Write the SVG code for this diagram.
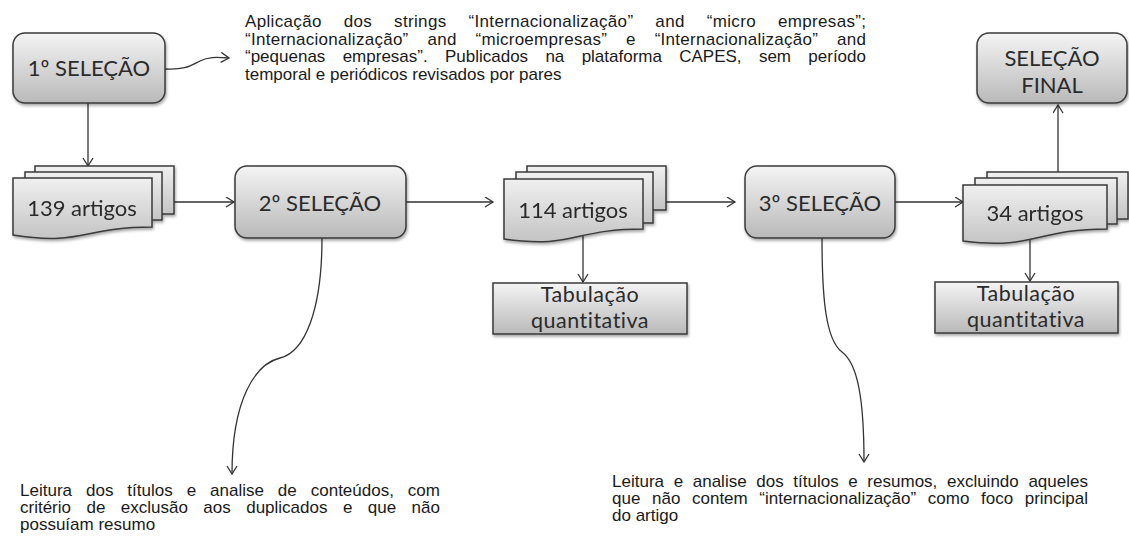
<svg xmlns="http://www.w3.org/2000/svg" width="1129" height="542" viewBox="0 0 1129 542">
<defs>
  <linearGradient id="g" x1="0" y1="0" x2="0" y2="1">
    <stop offset="0" stop-color="#f4f4f4"/>
    <stop offset="1" stop-color="#b9b9b9"/>
  </linearGradient>
  <linearGradient id="gs" x1="0" y1="0" x2="0" y2="1">
    <stop offset="0" stop-color="#f0f0f0"/>
    <stop offset="1" stop-color="#c4c4c4"/>
  </linearGradient>
  <filter id="sh" x="-10%" y="-10%" width="125%" height="135%">
    <feDropShadow dx="1" dy="2" stdDeviation="1.5" flood-color="#000" flood-opacity="0.35"/>
  </filter>
  <marker id="ah" markerUnits="userSpaceOnUse" markerWidth="12" markerHeight="12" refX="9" refY="5.5" orient="auto">
    <path d="M1,0.5 L9,5.5 L1,10.5" fill="none" stroke="#333" stroke-width="1.3"/>
  </marker>
</defs>
<style>
  .box{fill:url(#g);stroke:#3a3a3a;stroke-width:1.5;filter:url(#sh)}
  .sheet{fill:url(#gs);stroke:#3a3a3a;stroke-width:1.5}
  .lbl{font-family:Lato,"Liberation Sans",sans-serif;font-size:22px;fill:#2b2b2b;text-anchor:middle}
  .tab{font-family:Lato,"Liberation Sans",sans-serif;font-size:21.5px;letter-spacing:0.5px;fill:#2b2b2b;text-anchor:middle}
  .txt{font-family:"Liberation Sans",Arial,sans-serif;font-size:17px;fill:#1a1a1a}
  .con{fill:none;stroke:#333;stroke-width:1.3;marker-end:url(#ah)}
</style>
<rect width="1129" height="542" fill="#ffffff"/>

<g id="connectors">
  <path class="con" d="M165,69 C185,70 190,66 200,61 C208,57 215,57 229,58"/>
  <path class="con" d="M88,103 V166"/>
  <path class="con" d="M174,202 H234"/>
  <path class="con" d="M406,202 H493"/>
  <path class="con" d="M666,202 H735"/>
  <path class="con" d="M583,236 V282"/>
  <path class="con" d="M895,202 H963"/>
  <path class="con" d="M1058,172 V105"/>
  <path class="con" d="M1030,238 V281"/>
  <path class="con" d="M322,238 C322,310 305,352 280,358 C255,364 232,400 232,474"/>
  <path class="con" d="M822,238 C822,300 826,340 842,352 C858,364 864,400 864,462"/>
</g>

<g id="sel1">
  <rect class="box" x="13" y="33" width="152" height="70" rx="12"/>
  <text class="lbl" x="89" y="76">1º SELEÇÃO</text>
</g>

<g id="note1">
  <text class="txt" x="245" y="27" word-spacing="16.9" textLength="621" lengthAdjust="spacing">Aplicação dos strings “Internacionalização” and “micro empresas”;</text>
  <text class="txt" x="245" y="44.5" word-spacing="13.9" textLength="621" lengthAdjust="spacing">“Internacionalização” and “microempresas” e “Internacionalização” and</text>
  <text class="txt" x="245" y="62" word-spacing="12.6" textLength="621" lengthAdjust="spacing">“pequenas empresas”. Publicados na plataforma CAPES, sem período</text>
  <text class="txt" x="245" y="79.5">temporal e periódicos revisados por pares</text>
</g>

<g id="doc139" filter="url(#sh)">
  <rect class="sheet" x="35" y="166" width="139" height="48"/>
  <rect class="sheet" x="25" y="172" width="137" height="48"/>
  <path class="sheet" d="M13,178 H152 V227 C82,227 82,246 13,235 Z"/>
  <text class="lbl" x="82" y="216">139 artigos</text>
</g>

<g id="sel2">
  <rect class="box" x="235" y="166" width="171" height="72" rx="12"/>
  <text class="lbl" x="320" y="211">2º SELEÇÃO</text>
</g>

<g id="doc114" filter="url(#sh)">
  <rect class="sheet" x="527" y="166" width="139" height="44"/>
  <rect class="sheet" x="516" y="172" width="137" height="51"/>
  <path class="sheet" d="M504,179 H643 V229 C573,229 573,249 504,239 Z"/>
  <text class="lbl" x="573" y="218">114 artigos</text>
</g>

<g id="tab1">
  <rect x="493" y="283" width="194" height="51" fill="url(#g)" stroke="#3a3a3a" stroke-width="1.5" filter="url(#sh)"/>
  <text class="tab" x="590" y="302">Tabulação</text>
  <text class="tab" x="590" y="328">quantitativa</text>
</g>

<g id="sel3">
  <rect class="box" x="745" y="166" width="150" height="72" rx="12"/>
  <text class="lbl" x="820" y="211">3º SELEÇÃO</text>
</g>

<g id="doc34" filter="url(#sh)">
  <rect class="sheet" x="987" y="172" width="141" height="47"/>
  <rect class="sheet" x="975" y="178" width="142" height="46"/>
  <path class="sheet" d="M963,185 H1107 V229 C1035,229 1035,250 963,241 Z"/>
  <text class="lbl" x="1035" y="221">34 artigos</text>
</g>

<g id="tab2">
  <rect x="935" y="282" width="183" height="51" fill="url(#g)" stroke="#3a3a3a" stroke-width="1.5" filter="url(#sh)"/>
  <text class="tab" x="1026" y="301">Tabulação</text>
  <text class="tab" x="1026" y="327">quantitativa</text>
</g>

<g id="final">
  <rect class="box" x="977" y="33" width="150" height="70" rx="12"/>
  <text class="lbl" x="1052" y="66">SELEÇÃO</text>
  <text class="lbl" x="1052" y="93">FINAL</text>
</g>

<g id="note2">
  <text class="txt" x="20" y="496" word-spacing="9.2" textLength="420" lengthAdjust="spacing">Leitura dos títulos e analise de conteúdos, com</text>
  <text class="txt" x="20" y="513" word-spacing="10.7" textLength="420" lengthAdjust="spacing">critério de exclusão aos duplicados e que não</text>
  <text class="txt" x="20" y="530">possuíam resumo</text>
</g>

<g id="note3">
  <text class="txt" x="612" y="487" word-spacing="4.9" textLength="476" lengthAdjust="spacing">Leitura e analise dos títulos e resumos, excluindo aqueles</text>
  <text class="txt" x="612" y="504" word-spacing="6.9" textLength="476" lengthAdjust="spacing">que não contem “internacionalização” como foco principal</text>
  <text class="txt" x="612" y="521">do artigo</text>
</g>
</svg>
